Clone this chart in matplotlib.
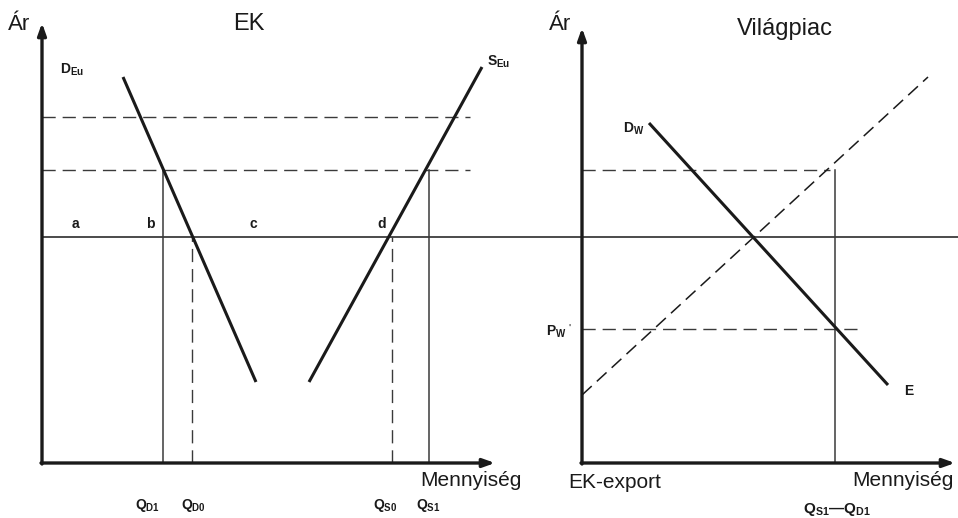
import matplotlib
matplotlib.use("Agg")
import matplotlib.pyplot as plt

plt.rcParams['font.family'] = ['Liberation Sans', 'DejaVu Sans']
plt.rcParams['mathtext.fontset'] = 'custom'
plt.rcParams['mathtext.rm'] = 'Liberation Sans'
plt.rcParams['mathtext.bf'] = 'Liberation Sans:bold'
plt.rcParams['mathtext.it'] = 'Liberation Sans:italic'
plt.rcParams['lines.scale_dashes'] = False

# ---- diagram data (diagram units, y grows upward) ----
# EK (left) panel
ek_origin = (42, 55)
ek_axis_end = (495, 495)           # x-arrow tip, y-arrow tip
d_eu_q = [123, 256]
d_eu_p = [441, 136]
s_eu_q = [309, 482]
s_eu_p = [136, 451]
p_high = 401
p_intervention = 348
p_world = 281
q_d1, q_d0, q_s0, q_s1 = 163, 192, 392, 429
dash_end_left = 470
letters = ['a', 'b', 'c', 'd']
letter_x = [75, 150, 253, 382]

# Világpiac (right) panel
w_origin = (582, 55)
w_axis_end = (955, 490)
d_w_q = [649, 888]
d_w_p = [395, 133]
s_w_q = [582, 928]
s_w_p = [123, 441]
p_w_new = 189
q_export = 835
dash_end_right1 = 830
dash_end_right2 = 862

# ---- figure ----
fig = plt.figure(figsize=(9.58, 5.18), dpi=100)
ax = fig.add_axes([0, 0, 1, 1])
ax.set_xlim(0, 958)
ax.set_ylim(0, 518)
ax.axis('off')

black = '#1a1a1a'
thin = '#3a3a3a'
dash = (0, (9.5, 5.0))

def axis_arrows(origin, end):
    ox, oy = origin
    ex, ey = end
    ax.annotate('', xy=(ex, oy), xytext=(ox - 1, oy),
                arrowprops=dict(arrowstyle='-|>,head_length=0.7,head_width=0.25',
                                lw=2.4, color=black, shrinkA=0, shrinkB=0))
    ax.annotate('', xy=(ox, ey), xytext=(ox, oy - 1),
                arrowprops=dict(arrowstyle='-|>,head_length=0.7,head_width=0.25',
                                lw=2.4, color=black, shrinkA=0, shrinkB=0))

# world price line across both panels
ax.plot([ek_origin[0], 958], [p_world, p_world], color=black, lw=1.1)

# EK panel
ax.plot([ek_origin[0], dash_end_left], [p_high, p_high], color=thin, lw=1.0, linestyle=dash)
ax.plot([ek_origin[0], dash_end_left], [p_intervention, p_intervention], color=thin, lw=1.0, linestyle=dash)
ax.plot([q_d1, q_d1], [ek_origin[1], p_intervention], color=thin, lw=1.1)
ax.plot([q_s1, q_s1], [ek_origin[1], p_intervention], color=thin, lw=1.1)
ax.plot([q_d0, q_d0], [ek_origin[1], p_world], color=thin, lw=1.0, linestyle=dash)
ax.plot([q_s0, q_s0], [ek_origin[1], p_world], color=thin, lw=1.0, linestyle=dash)
ax.plot(d_eu_q, d_eu_p, color=black, lw=2.2, solid_capstyle='butt')
ax.plot(s_eu_q, s_eu_p, color=black, lw=2.2, solid_capstyle='butt')
axis_arrows(ek_origin, ek_axis_end)

# Világpiac panel
ax.plot([w_origin[0], dash_end_right1], [p_intervention, p_intervention], color=thin, lw=1.0, linestyle=dash)
ax.plot([w_origin[0], dash_end_right2], [p_w_new, p_w_new], color=thin, lw=1.0, linestyle=dash)
ax.plot([q_export, q_export], [w_origin[1], p_intervention], color=thin, lw=1.1)
ax.plot(s_w_q, s_w_p, color=black, lw=1.1, linestyle=dash)
ax.plot(d_w_q, d_w_p, color=black, lw=2.2, solid_capstyle='butt')
axis_arrows(w_origin, w_axis_end)

# ---- text ----
title_fs = 17
axis_fs = 15
ax.text(8, 493, 'Ár', fontsize=16, ha='left', va='center', color=black)
ax.text(249, 494, 'EK', fontsize=title_fs, ha='center', va='center', color=black)
ax.text(549, 493, 'Ár', fontsize=16, ha='left', va='center', color=black)
ax.text(785, 489, 'Világpiac', fontsize=title_fs, ha='center', va='center', color=black)
ax.text(420, 38, 'Mennyiség', fontsize=axis_fs, ha='left', va='center', color=black)
ax.text(852, 38, 'Mennyiség', fontsize=axis_fs, ha='left', va='center', color=black)
ax.text(568, 36, 'EK-export', fontsize=axis_fs, ha='left', va='center', color=black)

lab = 10
ax.text(60, 448, r'$\mathbf{D}_{\mathbf{Eu}}$', fontsize=lab, ha='left', va='center', color=black)
ax.text(487, 456, r'$\mathbf{S}_{\mathbf{Eu}}$', fontsize=lab, ha='left', va='center', color=black)
ax.text(623, 389, r'$\mathbf{D}_{\mathbf{W}}$', fontsize=lab, ha='left', va='center', color=black)
ax.text(904, 127, 'E', fontsize=lab, fontweight='bold', ha='left', va='center', color=black)
ax.text(546, 186, r"$\mathbf{P}_{\mathbf{W}}$", fontsize=lab, ha='left', va='center', color=black)
ax.text(568, 189, "'", fontsize=8, ha='left', va='center', color=black)

for t, x in zip(letters, letter_x):
    ax.text(x, 294, t, fontsize=lab, fontweight='bold', ha='center', va='center', color=black)

qy = 13
ax.text(q_d1 - 15, qy, r'$\mathbf{Q}_{\mathbf{D1}}$', fontsize=lab, ha='center', va='center', color=black)
ax.text(q_d0 + 1, qy, r'$\mathbf{Q}_{\mathbf{D0}}$', fontsize=lab, ha='center', va='center', color=black)
ax.text(q_s0 - 7, qy, r'$\mathbf{Q}_{\mathbf{S0}}$', fontsize=lab, ha='center', va='center', color=black)
ax.text(q_s1 - 1, qy, r'$\mathbf{Q}_{\mathbf{S1}}$', fontsize=lab, ha='center', va='center', color=black)
ax.text(q_export + 2, 8, r'$\mathbf{Q}_{\mathbf{S1}}$—$\mathbf{Q}_{\mathbf{D1}}$', fontsize=11,
        fontweight='bold', ha='center', va='center', color=black)

fig.savefig('out.png', dpi=100)
